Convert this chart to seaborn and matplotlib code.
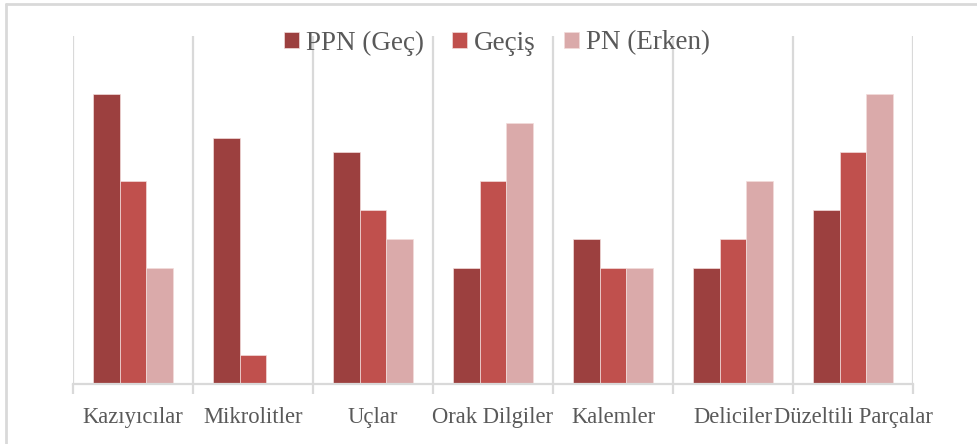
import numpy as np
import pandas as pd
import matplotlib
matplotlib.use("Agg")
import matplotlib.pyplot as plt
from matplotlib.lines import Line2D
import seaborn as sns

categories = ["Kazıyıcılar", "Mikrolitler", "Uçlar", "Orak Dilgiler",
              "Kalemler", "Deliciler", "Düzeltili Parçalar"]
series = ["PPN (Geç)", "Geçiş", "PN (Erken)"]
ppn_gec = [10, 8.5, 8, 4, 5, 4, 6]
gecis = [7, 1, 6, 7, 4, 5, 8]
pn_erken = [4, 0, 5, 9, 4, 7, 10]
colors = ["#9C403F", "#C0504D", "#DAAAAA"]

df = pd.DataFrame({
    "kategori": categories * 3,
    "donem": [s for s in series for _ in categories],
    "deger": ppn_gec + gecis + pn_erken,
})

sns.set_theme(style="white")
plt.rcParams["font.family"] = ["Liberation Serif", "DejaVu Serif"]

grid_col = "#D9D9D9"
text_col = "#595959"

fig = plt.figure(figsize=(9.77, 4.44), dpi=100)
ax = fig.add_axes([73 / 977, 1 - 384.3 / 444, 840 / 977, 348.3 / 444])

sns.barplot(data=df, x="kategori", y="deger", hue="donem",
            order=categories, hue_order=series, palette=colors,
            width=0.667, gap=0, saturation=1, edgecolor="#F2DCDB",
            linewidth=0.5, legend=True, ax=ax)

ax.set_xlim(-0.5, len(categories) - 0.5)
ax.set_ylim(0, 12)
ax.set_xlabel("")
ax.set_ylabel("")
ax.set_yticks([])

# category boundaries carry the gridlines and the tick marks
ax.set_xticks(np.arange(-0.5, len(categories)), minor=True)
ax.grid(which="minor", axis="x", color=grid_col, linewidth=1.6)
ax.grid(which="major", visible=False)
ax.set_axisbelow(True)
ax.tick_params(axis="x", which="major", length=0, pad=16,
               labelsize=16.3, labelcolor=text_col)
ax.tick_params(axis="x", which="minor", length=7, width=1.6,
               color=grid_col, bottom=True)
for side in ["left", "right", "top"]:
    ax.spines[side].set_visible(False)
ax.spines["bottom"].set_color(grid_col)
ax.spines["bottom"].set_linewidth(1.6)

handles, labels = ax.get_legend_handles_labels()
ax.get_legend().remove()
fig.legend(handles, labels, ncol=3, frameon=False, loc="center",
           bbox_to_anchor=(497 / 977, 1 - 43 / 444),
           fontsize=19.5, labelcolor=text_col, handlelength=0.56,
           handleheight=0.56, handletextpad=0.25, columnspacing=1.05,
           borderpad=0)

# outer chart frame
fig.add_artist(Line2D([6 / 977, 6 / 977], [0, 1 - 4 / 444],
                      transform=fig.transFigure, color=grid_col, linewidth=2))
fig.add_artist(Line2D([6 / 977, 1], [1 - 4 / 444, 1 - 4 / 444],
                      transform=fig.transFigure, color=grid_col, linewidth=2))

fig.savefig("out.png", dpi=100, facecolor="white")
